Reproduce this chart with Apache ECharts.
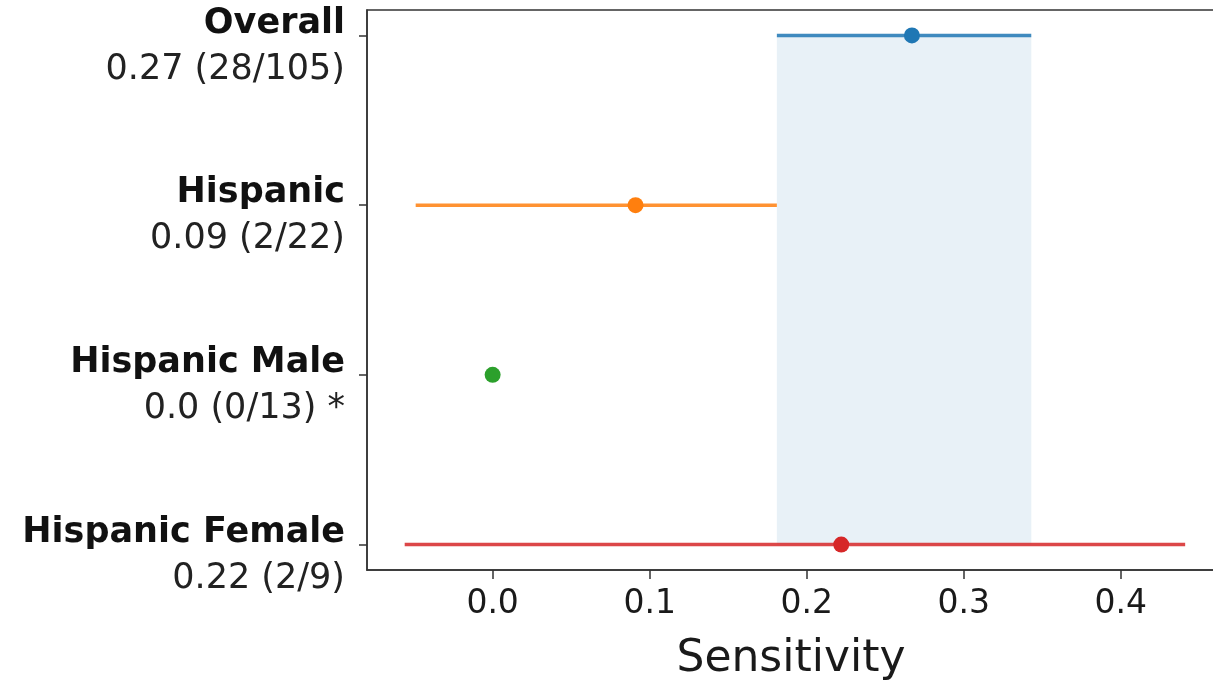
<!DOCTYPE html>
<html>
<head>
<meta charset="utf-8">
<script src="https://cdn.jsdelivr.net/npm/echarts@6/dist/echarts.min.js"></script>
<style>
  html, body { margin: 0; padding: 0; background: #fff; }
  #chart { width: 1213px; height: 680px; }
</style>
</head>
<body>
<div id="chart"></div>
<script>
// data
const groups = ['Overall', 'Hispanic', 'Hispanic Male', 'Hispanic Female'];
const groupStats = ['0.27 (28/105)', '0.09 (2/22)', '0.0 (0/13) *', '0.22 (2/9)'];
const pointEst = [0.267, 0.091, 0.0, 0.222];
const ciLow = [0.181, -0.049, null, -0.056];
const ciHigh = [0.343, 0.181, null, 0.441];
const xTicks = [0.0, 0.1, 0.2, 0.3, 0.4];

const colors = ['#1f77b4', '#ff7f0e', '#2ca02c', '#d62728'];
const font = 'DejaVu Sans';

let chart = echarts.init(document.getElementById('chart'));

let series = [];
groups.forEach(function(g, i) {
    if (ciLow[i] != null) {
        let s = {
            name: g + ' CI',
            type: 'line',
            data: [[ciLow[i], i], [ciHigh[i], i]],
            symbol: 'none',
            lineStyle: { color: colors[i], width: 3.5, opacity: 0.85 },
            z: 3,
            silent: true
        };
        if (i == 0) {
            // overall interval shaded across all rows
            s.markArea = {
                silent: true,
                itemStyle: { color: colors[0], opacity: 0.1 },
                data: [[{ xAxis: ciLow[0], yAxis: 0 }, { xAxis: ciHigh[0], yAxis: groups.length - 1 }]]
            };
        }
        series.push(s);
    }
    series.push({
        name: g,
        type: 'scatter',
        data: [[pointEst[i], i]],
        symbolSize: 16,
        itemStyle: { color: colors[i], opacity: 1 },
        z: 4
    });
});

let option = {
    animation: false,
    textStyle: { fontFamily: font },
    grid: {
        left: 367,
        right: -2,
        top: 10,
        bottom: 110,
        outerBoundsMode: 'none',
        containLabel: false,
        show: true,
        borderColor: '#333',
        borderWidth: 1.5,
        backgroundColor: 'transparent'
    },
    xAxis: {
        type: 'value',
        min: -0.08,
        max: 0.46,
        name: 'Sensitivity',
        nameLocation: 'middle',
        nameGap: 68,
        nameTextStyle: { fontSize: 44, color: '#1a1a1a', fontFamily: font },
        axisLine: { show: true, onZero: false, lineStyle: { color: '#333', width: 1.5 } },
        axisTick: { show: true, length: 9, lineStyle: { color: '#333', width: 1.5 }, customValues: xTicks },
        axisLabel: {
            margin: 18,
            fontSize: 33,
            color: '#1a1a1a',
            fontFamily: font,
            customValues: xTicks,
            formatter: function(v) { return v.toFixed(1); }
        },
        splitLine: { show: false }
    },
    yAxis: {
        type: 'value',
        inverse: true,
        min: -0.15,
        max: 3.15,
        axisLine: { show: true, onZero: false, lineStyle: { color: '#333', width: 1.5 } },
        axisTick: { show: true, length: 8, lineStyle: { color: '#333', width: 1.5 }, customValues: [0, 1, 2, 3] },
        axisLabel: {
            margin: 22,
            align: 'right',
            customValues: [0, 1, 2, 3],
            padding: [22, 0, 0, 0],
            formatter: function(v) {
                let i = Math.round(v);
                return '{n|' + groups[i] + '}\n{v|' + groupStats[i] + '}';
            },
            rich: {
                n: { fontSize: 35, fontWeight: 'bold', color: '#111', fontFamily: font, lineHeight: 46, align: 'right' },
                v: { fontSize: 35, color: '#222', fontFamily: font, lineHeight: 46, align: 'right' }
            }
        },
        splitLine: { show: false }
    },
    series: series
};

chart.setOption(option);
</script>
</body>
</html>
